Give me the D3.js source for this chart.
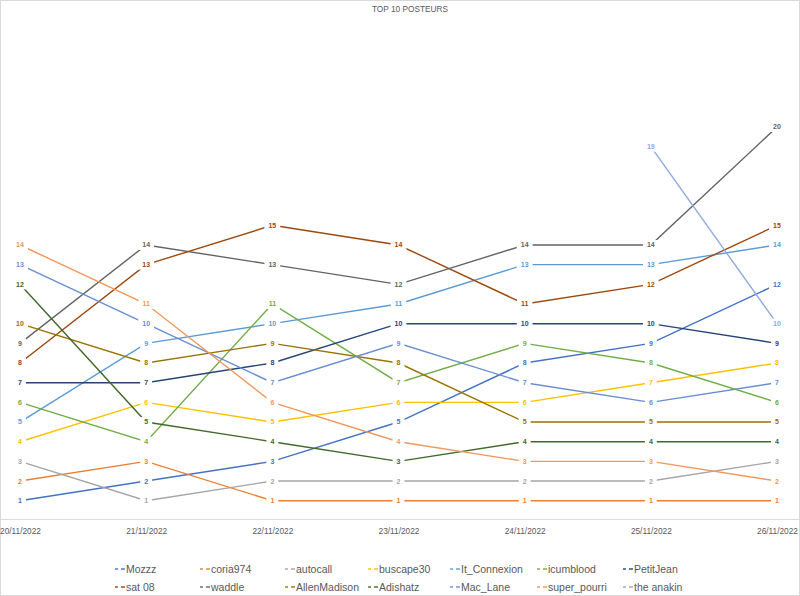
<!DOCTYPE html>
<html>
<head>
<meta charset="utf-8">
<script src="https://cdn.jsdelivr.net/npm/d3@7"></script>
<style>
  html, body { margin: 0; padding: 0; background: #fff; }
  svg { display: block; }
</style>
</head>
<body>
<svg id="chart" width="800" height="596"></svg>
<script>
const dates = ["20/11/2022", "21/11/2022", "22/11/2022", "23/11/2022", "24/11/2022", "25/11/2022", "26/11/2022"];
const seriesNames = ["Mozzz", "coria974", "autocall", "buscape30", "It_Connexion", "icumblood", "PetitJean",
                     "sat 08", "waddle", "AllenMadison", "Adishatz", "Mac_Lane", "super_pourri", "the anakin"];
const Mozzz        = [1, 2, 3, 5, 8, 9, 12];
const coria974     = [2, 3, 1, 1, 1, 1, 1];
const autocall     = [3, 1, 2, 2, 2, 2, 3];
const buscape30    = [4, 6, 5, 6, 6, 7, 8];
const It_Connexion = [5, 9, 10, 11, 13, 13, 14];
const icumblood    = [6, 4, 11, 7, 9, 8, 6];
const PetitJean    = [7, 7, 8, 10, 10, 10, 9];
const sat08        = [8, 13, 15, 14, 11, 12, 15];
const waddle       = [9, 14, 13, 12, 14, 14, 20];
const AllenMadison = [10, 8, 9, 8, 5, 5, 5];
const Adishatz     = [12, 5, 4, 3, 4, 4, 4];
const Mac_Lane     = [13, 10, 7, 9, 7, 6, 7];
const super_pourri = [14, 11, 6, 4, 3, 3, 2];
const the_anakin   = [null, null, null, null, null, 19, 10];
const seriesValues = [Mozzz, coria974, autocall, buscape30, It_Connexion, icumblood, PetitJean,
                      sat08, waddle, AllenMadison, Adishatz, Mac_Lane, super_pourri, the_anakin];
const colors = ["#4472C4", "#ED7D31", "#A5A5A5", "#FFC000", "#5B9BD5", "#70AD47", "#264478",
                "#9E480E", "#636363", "#997300", "#43682B", "#698ED0", "#F1975A", "#8FAADC"];

const svg = d3.select("#chart");
const W = 800, H = 596;

// chart border
svg.append("rect").attr("x", 0.5).attr("y", 0.5).attr("width", W - 1).attr("height", H - 1)
  .attr("fill", "#fff").attr("stroke", "#d9d9d9");

const x = d3.scalePoint().domain(dates).range([20, 777]);
const y = d3.scaleLinear().domain([0, 25]).range([520.4, 28.6]);

// title
svg.append("text").attr("x", 410).attr("y", 12).attr("text-anchor", "middle")
  .attr("font-family", "Liberation Sans, Arial, sans-serif").attr("font-size", 8.3)
  .attr("fill", "#595959").text("TOP 10 POSTEURS");

// x axis
const xAxis = svg.append("g").attr("transform", `translate(0,${y(0)})`)
  .call(d3.axisBottom(x).tickSize(0).tickPadding(8));
xAxis.select(".domain").remove();
xAxis.append("line").attr("x1", 0).attr("x2", W).attr("y1", -1).attr("y2", -1).attr("stroke", "#d9d9d9");
xAxis.selectAll("text").attr("font-family", "Liberation Sans Narrow, Arial Narrow, sans-serif")
  .attr("font-size", 8.3).attr("fill", "#595959");

const data = seriesNames.map((name, i) => ({
  name, color: colors[i],
  points: dates.map((d, j) => ({ date: d, value: seriesValues[i][j] }))
}));

const line = d3.line().defined(p => p.value != null).x(p => x(p.date)).y(p => y(p.value));

const gLines = svg.append("g");
gLines.selectAll("path").data(data).join("path")
  .attr("d", s => line(s.points)).attr("fill", "none")
  .attr("stroke", s => s.color).attr("stroke-width", 1.4);

// data labels (centered with white box)
const gLabels = svg.append("g");
data.forEach(s => {
  s.points.filter(p => p.value != null).forEach(p => {
    const g = gLabels.append("g").attr("transform", `translate(${x(p.date)},${y(p.value)})`);
    const t = g.append("text").attr("text-anchor", "middle").attr("dy", "0.35em")
      .attr("font-family", "Liberation Sans, Arial, sans-serif").attr("font-weight", "bold")
      .attr("font-size", 7).attr("fill", s.color).text(p.value);
    const w = t.node().getComputedTextLength() + 8;
    g.insert("rect", "text").attr("x", -w / 2).attr("y", -5).attr("width", w).attr("height", 10).attr("fill", "#fff");
  });
});

// legend
const legCols = [115, 200, 285, 368, 450, 537, 623];
const legRows = [569, 587];
const gLeg = svg.append("g");
data.forEach((s, i) => {
  const lx = legCols[i % 7], ly = legRows[Math.floor(i / 7)];
  const g = gLeg.append("g").attr("transform", `translate(${lx},${ly})`);
  g.append("line").attr("x1", 0).attr("x2", 3).attr("y1", 0).attr("y2", 0).attr("stroke", s.color).attr("stroke-width", 1.4);
  g.append("line").attr("x1", 6).attr("x2", 10).attr("y1", 0).attr("y2", 0).attr("stroke", s.color).attr("stroke-width", 1.4);
  g.append("text").attr("x", 11).attr("dy", "0.35em")
    .attr("font-family", "Liberation Sans, Arial, sans-serif").attr("font-size", 10.5)
    .attr("fill", "#595959").text(s.name);
});
</script>
</body>
</html>
